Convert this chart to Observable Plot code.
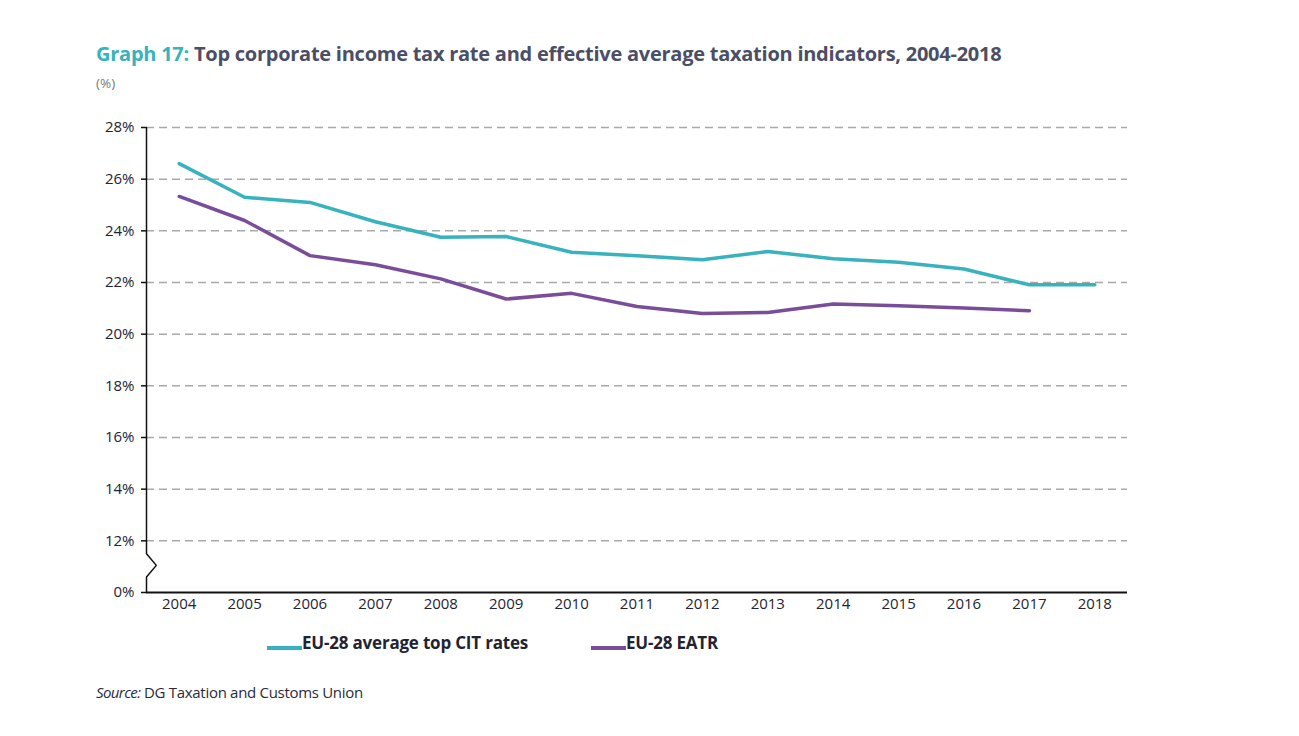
<!DOCTYPE html>
<html>
<head>
<meta charset="utf-8">
<script src="https://cdn.jsdelivr.net/npm/d3@7"></script>
<script src="https://cdn.jsdelivr.net/npm/@observablehq/plot@0.6"></script>
<style>
  html, body { margin: 0; padding: 0; background: #fff; }
  body { width: 1299px; height: 736px; position: relative; overflow: hidden; font-family: "Open Sans", sans-serif; }
  #title { position: absolute; left: 96px; top: 40px; font-size: 20px; font-weight: 700; color: #4a4e66; letter-spacing: -0.25px; white-space: nowrap; }
  #title .lead { color: #38b2bc; }
  #unit { position: absolute; left: 96px; top: 74px; font-size: 13.5px; color: #7a7a7a; }
  #chart { position: absolute; left: 0; top: 100px; }
  #legend { position: absolute; top: 631px; left: 0; font-size: 17px; font-weight: 700; color: #1f2433; letter-spacing: -0.2px; }
  .item { position: absolute; white-space: nowrap; display: flex; align-items: center; }
  .sw { display: inline-block; width: 35px; height: 4px; margin-top: 11px; }
  #source { position: absolute; left: 96px; top: 682px; font-size: 15px; color: #2a2a3a; letter-spacing: -0.3px; white-space: nowrap; }
  #source i { letter-spacing: -0.6px; }
</style>
</head>
<body>
<div id="title"><span class="lead">Graph 17:</span> Top corporate income tax rate and effective average taxation indicators, 2004-2018</div>
<div id="unit">(%)</div>
<div id="chart"></div>
<div id="legend"></div>
<div id="source"><i>Source:</i> DG Taxation and Customs Union</div>
<script>
// ---- data ----
const years = [2004, 2005, 2006, 2007, 2008, 2009, 2010, 2011, 2012, 2013, 2014, 2015, 2016, 2017, 2018];
const citRates = [26.6, 25.3, 25.1, 24.35, 23.75, 23.78, 23.17, 23.04, 22.88, 23.2, 22.92, 22.78, 22.52, 21.91, 21.91];
const eatrYears = [2004, 2005, 2006, 2007, 2008, 2009, 2010, 2011, 2012, 2013, 2014, 2015, 2016, 2017];
const eatrRates = [25.33, 24.4, 23.04, 22.69, 22.14, 21.36, 21.58, 21.07, 20.8, 20.84, 21.17, 21.1, 21.01, 20.91];
const seriesNames = ["EU-28 average top CIT rates", "EU-28 EATR"];
const seriesColors = ["#38b2bc", "#7a4d9b"];
// y axis has a break: the lowest tick (position 10) is labelled 0%
const yTicks = [10, 12, 14, 16, 18, 20, 22, 24, 26, 28];
const yTickLabels = ["0%", "12%", "14%", "16%", "18%", "20%", "22%", "24%", "26%", "28%"];
const gridTicks = [12, 14, 16, 18, 20, 22, 24, 26, 28];
// axis break zig-zag (in data units)
const axisBreakX = [2003.5, 2003.5, 2003.65, 2003.5, 2003.5];
const axisBreakY = [28, 11.5, 11.05, 10.6, 10];

const rows = [
  ...years.map((y, i) => ({year: y, value: citRates[i], series: seriesNames[0]})),
  ...eatrYears.map((y, i) => ({year: y, value: eatrRates[i], series: seriesNames[1]}))
];
const breakPts = axisBreakX.map((x, i) => ({x, y: axisBreakY[i]}));

const chart = Plot.plot({
  width: 1299,
  height: 530,
  marginLeft: 146,
  marginRight: 172,
  marginTop: 27,
  marginBottom: 38,
  style: {fontFamily: "Open Sans, sans-serif", fontSize: "14px", color: "#1f2433", background: "transparent"},
  x: {domain: [2003.5, 2018.5], axis: null},
  y: {domain: [10, 28], axis: null},
  color: {domain: seriesNames, range: seriesColors},
  marks: [
    Plot.gridY(gridTicks, {stroke: "#a9a9a9", strokeOpacity: 1, strokeWidth: 1.5, strokeDasharray: "8,5"}),
    Plot.axisY(yTicks, {tickSize: 5, tickPadding: 7, tickFormat: (d) => yTickLabels[yTicks.indexOf(d)], fontSize: 15, stroke: "#111", strokeWidth: 1.5, fill: "#1f2433", letterSpacing: -0.6}),
    Plot.axisX(years, {tickSize: 0, tickPadding: 6, tickFormat: d => String(d), fontSize: 15, fill: "#1f2433", letterSpacing: -0.4}),
    Plot.line(breakPts, {x: "x", y: "y", stroke: "#111", strokeWidth: 1.5, strokeLinejoin: "miter"}),
    Plot.ruleY([10], {stroke: "#111", strokeWidth: 1.8}),
    Plot.line(rows, {x: "year", y: "value", stroke: "series", z: "series", strokeWidth: 3.5, strokeLinejoin: "round"})
  ]
});
document.getElementById("chart").appendChild(chart);

const legendPos = [267, 591];
const legend = document.getElementById("legend");
seriesNames.forEach((name, i) => {
  const item = document.createElement("div");
  item.className = "item";
  item.style.left = legendPos[i] + "px";
  item.innerHTML = `<span class="sw" style="background:${seriesColors[i]}"></span><span>${name}</span>`;
  legend.appendChild(item);
});
</script>
</body>
</html>
